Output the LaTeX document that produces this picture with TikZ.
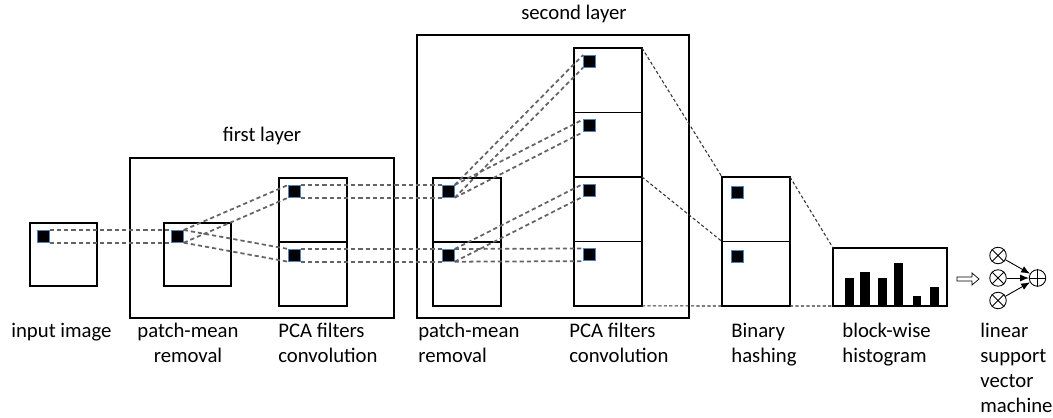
\documentclass[tikz,border=0pt]{standalone}
\usepackage{fontspec}
\setmainfont{Carlito}
\usetikzlibrary{arrows.meta,positioning}

\definecolor{patchblue}{HTML}{4F81BD}
\definecolor{linkgray}{HTML}{646464}

\tikzset{
  box/.style={draw,line width=0.7pt,inner sep=0pt,outer sep=0pt,
    minimum width=1.36cm,minimum height=1.28cm},
  frame/.style={draw,line width=0.7pt,inner sep=0pt,outer sep=0pt},
  patch/.style={fill=black,draw=patchblue,line width=0.4pt,inner sep=0pt,
    minimum size=0.24cm,anchor=north west},
  link/.style={linkgray,line width=1pt,dash pattern=on 2.4pt off 1.7pt},
  fine/.style={black!80,line width=0.6pt,dash pattern=on 1.8pt off 1.3pt},
  lbl/.style={anchor=north west,inner sep=0pt,align=left,
    font=\fontsize{11.8}{14.2}\selectfont},
  xcirc/.style={circle,draw,line width=0.5pt,minimum size=0.33cm,inner sep=0pt},
}

\begin{document}
\begin{tikzpicture}[x=0.02cm,y=-0.02cm]
    \useasboundingbox (0,0) rectangle (1053,418);

    % layers
    \node[frame,minimum width=5.28cm,minimum height=3.2cm] (layerA) at (262,238) {};
    \node[frame,minimum width=5.44cm,minimum height=5.66cm] (layerB) at (553,176.5) {};
    \node[lbl,anchor=base] (layerAtxt) at (262,142) {first layer};
    \node[lbl,anchor=base] (layerBtxt) at (574,20) {second layer};

    % maps
    \node[box,minimum width=1.34cm,minimum height=1.26cm] (in) at (63.5,254.5) {};
    \node[box,minimum width=1.34cm,minimum height=1.26cm] (pmA) at (197.5,254.5) {};
    \node[box] (pcaAa) at (313,210) {};
    \node[box,below=0pt of pcaAa] (pcaAb) {};
    \node[box] (pmBa) at (467,210) {};
    \node[box,below=0pt of pmBa] (pmBb) {};
    \node[box,minimum height=1.29cm] (pcaBa) at (608,80.25) {};
    \node[box,minimum height=1.29cm,below=0pt of pcaBa] (pcaBb) {};
    \node[box,minimum height=1.29cm,below=0pt of pcaBb] (pcaBc) {};
    \node[box,minimum height=1.29cm,below=0pt of pcaBc] (pcaBd) {};
    \node[box,minimum height=1.29cm] (bha) at (756,209.25) {};
    \node[box,minimum height=1.29cm,below=0pt of bha] (bhb) {};
    \node[box,minimum width=2.28cm,minimum height=1.16cm] (hist) at (890,277) {};

    % patches
    \foreach \m in {in,pmA} {
      \node[patch] (\m P) at ([shift={(7,7)}]\m.north west) {};
    }
    \foreach \m in {pcaAa,pcaAb,pmBa,pmBb,pcaBa,pcaBb,pcaBc,pcaBd} {
      \node[patch] (\m P) at ([shift={(9,7)}]\m.north west) {};
    }
    \foreach \m in {bha,bhb} {
      \node[patch] (\m P) at ([shift={(9,9)}]\m.north west) {};
    }

    % patch links
    \foreach \a/\b in {inP/pmAP,pmAP/pcaAaP,pmAP/pcaAbP,pcaAaP/pmBaP,pcaAbP/pmBbP,
                       pmBaP/pcaBaP,pmBaP/pcaBbP,pmBbP/pcaBcP,pmBbP/pcaBdP} {
      \draw[link] (\a.north east) -- (\b.north west);
      \draw[link] (\a.south east) -- (\b.south west);
    }

    % hashing and histogram
    \draw[fine] (pcaBa.north east) -- (bha.north west);
    \draw[fine] (pcaBc.north east) -- (bhb.north west);
    \draw[fine] (pcaBd.south east) -- (bhb.south west);
    \draw[fine] (bha.north east) -- (hist.north west);
    \draw[fine] (bhb.south east) -- (hist.south west);

    \foreach \l/\r/\t in {845/854/278,860/870/272,878/887/278,894/903/263,913/921/296,930/939/287}
      \fill (\l,\t) rectangle (\r,306);

    \draw[line width=0.4pt] (957,277) -- (972,277) -- (972,273) -- (979,279)
      -- (972,285) -- (972,281) -- (957,281) -- cycle;

    % classifier
    \node[xcirc] (mulA) at (998,255.5) {};
    \node[xcirc] (mulB) at (998,278) {};
    \node[xcirc] (mulC) at (998,300.5) {};
    \node[xcirc] (sum) at (1037.5,278) {};
    \foreach \n in {mulA,mulB,mulC} {
      \draw[line width=0.5pt] (\n.north east) -- (\n.south west) (\n.north west) -- (\n.south east);
      \draw[line width=0.5pt,-{Latex[length=5pt,width=4pt]}] (\n) -- (sum);
    }
    \draw[line width=0.5pt] (sum.north) -- (sum.south) (sum.west) -- (sum.east);

    % labels
    \node[lbl] (inTxt) at (11,323) {input image};
    \node[lbl,align=center,anchor=north] (pmAtxt) at (188,323) {patch-mean\\removal};
    \node[lbl] (pcaAtxt) at (278,323) {PCA filters\\convolution};
    \node[lbl] (pmBtxt) at (418,323) {patch-mean\\removal};
    \node[lbl] (pcaBtxt) at (569,323) {PCA filters\\convolution};
    \node[lbl] (bhTxt) at (731,323) {Binary\\hashing};
    \node[lbl] (histTxt) at (842,323) {block-wise\\histogram};
    \node[lbl] (svmTxt) at (980,323) {linear\\support\\vector\\machine};
\end{tikzpicture}
\end{document}
